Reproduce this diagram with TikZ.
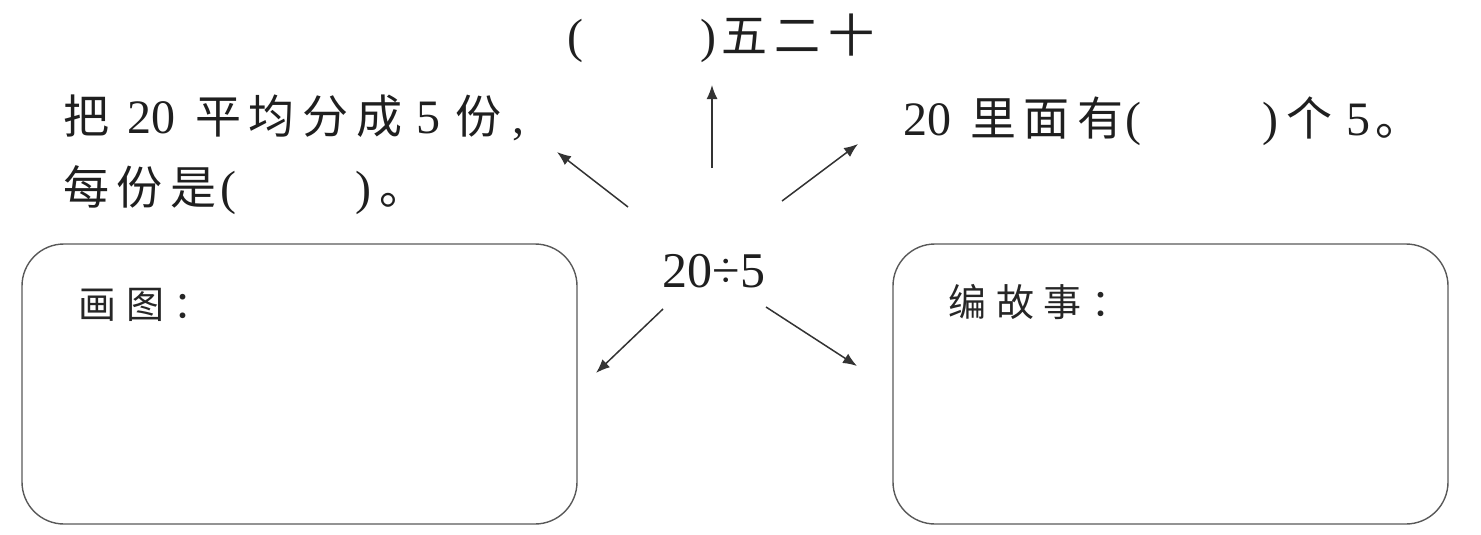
\documentclass[tikz,border=0pt]{standalone}
\usepackage{fontspec}
\setmainfont{Liberation Serif}
\newfontfamily\latinfont{Liberation Serif}
\newfontfamily\cjkfont[LetterSpace=17]{Noto Sans CJK SC}
\newfontfamily\cjkwide[LetterSpace=26]{Noto Sans CJK SC}
\usetikzlibrary{arrows.meta}
\newcommand\zh[1]{{\fontsize{46}{56}\selectfont\cjkfont #1}}
\newcommand\zhs[1]{{\fontsize{38}{46}\selectfont\cjkwide #1}}
\newcommand\gap[1]{\hspace*{#1pt}}
\begin{document}
\begin{tikzpicture}[x=1pt,y=-1pt,
  txt/.style={inner sep=0pt,anchor=base west,font=\latinfont\fontsize{48}{56}\selectfont,text=black!88},
  mid/.style={inner sep=0pt,anchor=base,font=\latinfont\fontsize{50}{60}\selectfont,text=black!88},
  lbl/.style={inner sep=0pt,anchor=base west,text=black!85},
  panel/.style={draw=black!65,line width=1.4pt,rounded corners=42pt,inner sep=0pt,
    minimum width=555pt,minimum height=280pt},
  arr/.style={draw=black!80,line width=1.5pt,-{Latex[length=14pt,width=11pt]}}]
\useasboundingbox (0,0) rectangle (1481,535);

% panels
\node[panel] (lbox) at (299.5,384) {};
\node[panel] (rbox) at (1170.5,384) {};
\node[lbl] (lboxt) at (78,318) {\zhs{画图：}};
\node[lbl] (rboxt) at (948,316) {\zhs{编故事：}};

% texts
\node[mid] (c) at (714,287) {20÷5};
\node[txt] (top) at (567,53) {(\gap{117})\gap{5}\zh{五二十}};
\node[txt] (l1) at (63,133) {\zh{把}\gap{18}20\gap{20}\zh{平均分成}\gap{14}5\gap{15}\zh{份}\gap{11},};
\node[txt] (l2) at (63,204) {\zh{每份是}\gap{4}(\gap{119})\gap{8}\zh{。}};
\node[txt] (r1) at (903,135) {20\gap{19}\zh{里面有}\gap{2}(\gap{121})\gap{8}\zh{个}\gap{14}5\gap{5}\zh{。}};

% arrow end points
\coordinate (ulS) at (628,207);  \coordinate (ulE) at (557,152);
\coordinate (upS) at (712,168);  \coordinate (upE) at (712,85);
\coordinate (urS) at (782,201);  \coordinate (urE) at (858,144);
\coordinate (dlS) at (663,309);  \coordinate (dlE) at (596,373);
\coordinate (drS) at (766,307);  \coordinate (drE) at (857,366);

\draw[arr] (ulS) -- (ulE);
\draw[arr] (upS) -- (upE);
\draw[arr] (urS) -- (urE);
\draw[arr] (dlS) -- (dlE);
\draw[arr] (drS) -- (drE);
\end{tikzpicture}
\end{document}
